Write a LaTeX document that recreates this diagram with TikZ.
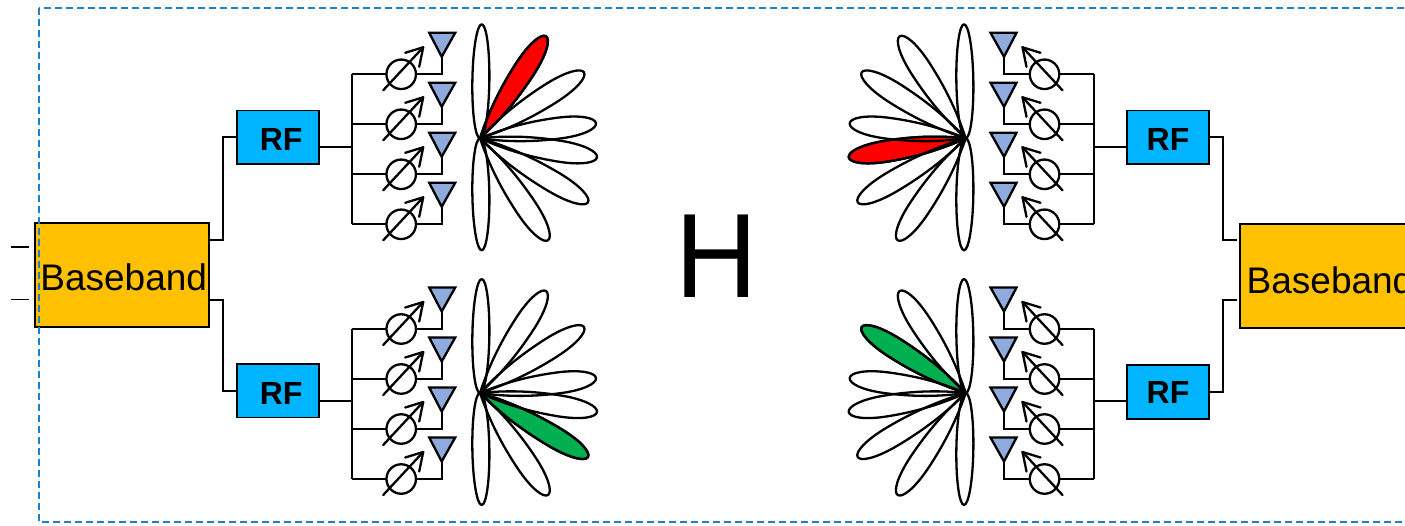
\documentclass[tikz,border=0pt]{standalone}
\usepackage{fontspec}
\setmainfont{Liberation Sans}
\definecolor{rfblue}{HTML}{00B4FF}
\definecolor{bbgold}{HTML}{FFC000}
\definecolor{antblue}{HTML}{8FAADC}
\definecolor{framecol}{HTML}{1F7FC8}
\definecolor{lobegreen}{HTML}{00B050}
\tikzset{
  wire/.style={line width=1.9pt,line join=miter},
  heavy/.style={line width=2.3pt,line join=round},
  rfbox/.style={draw=black,line width=1.7pt,fill=rfblue,minimum width=82pt,minimum height=53.5pt,inner sep=0pt,outer sep=0pt,font=\fontsize{32}{32}\selectfont\bfseries},
  bbbox/.style={draw=black,line width=1.7pt,fill=bbgold,minimum width=174.5pt,minimum height=103.7pt,inner sep=0pt,outer sep=0pt,font=\fontsize{37}{37}\selectfont},
  shifter/.style={circle,draw=black,line width=2.3pt,minimum size=29.5pt,inner sep=0pt,outer sep=0pt},
  antenna/.style={draw=black,line width=2.3pt,fill=antblue,line join=miter},
  lobeline/.style={draw=black,line width=2.3pt,line join=round}
}
% teardrop lobe: #1 tip dx, #2 tip dy (pixels, y down), #3 extra options
\newcommand{\lobeat}[3]{%
  \pgfmathsetmacro{\lobelen}{veclen(#1,#2)}%
  \pgfmathsetmacro{\lobeang}{atan2(-(#2),#1)}%
  \path[lobeline,#3,rotate=\lobeang] (0,0)
    .. controls (0.2*\lobelen,6.5) and (0.42*\lobelen,10.5) .. (0.68*\lobelen,10.5)
    .. controls (0.88*\lobelen,10.5) and (\lobelen,5.5) .. (\lobelen,0)
    .. controls (\lobelen,-5.5) and (0.88*\lobelen,-10.5) .. (0.68*\lobelen,-10.5)
    .. controls (0.42*\lobelen,-10.5) and (0.2*\lobelen,-6.5) .. (0,0) -- cycle;%
}
% upright lobe: plain ellipse from the origin to its tip
\newcommand{\uprightlobe}[2]{%
  \pgfmathsetmacro{\lobelen}{veclen(#1,#2)}%
  \pgfmathsetmacro{\lobeang}{atan2(-(#2),#1)}%
  \path[lobeline,rotate=\lobeang] (\lobelen/2,0) ellipse [x radius=\lobelen/2,y radius=8.5];%
}
% #1 name prefix, #2 fill lobe dx, #3 fill lobe dy, #4 fill colour
\newcommand{\antarray}[4]{%
  \foreach \k in {0,1,2,3}{%
    \begin{scope}[yshift=-\k*50pt]
      \node[shifter] (#1p\k) at (49.5,0) {};
      \coordinate (#1t\k) at (90,-17.5);
      \coordinate (#1b\k) at (0,0);
      \draw[wire] (#1b\k) -- (#1p\k);
      \draw[heavy,line join=miter] (#1p\k) -- (90,0) -- (#1t\k);
      \draw[antenna] (77.5,-41.5) -- (103.5,-41.5) -- (#1t\k) -- cycle;
      \draw[heavy,line cap=round] (31.5,16) -- (71.5,-27);
      \draw[heavy,line cap=round] (53.5,-21.5) -- (71.5,-27) -- (67.5,-7.5);
    \end{scope}
  }
  \draw[wire] (#1b0) -- (#1b3);
  \begin{scope}[shift={(128.3,64)}]
    \lobeat{#2}{#3}{fill=#4}
    \uprightlobe{1.7}{-114}
    \lobeat{66}{-102}{}
    \lobeat{104}{-66}{}
    \lobeat{116}{-15}{}
    \lobeat{117}{19}{}
    \lobeat{108}{64}{}
    \lobeat{68}{102}{}
    \uprightlobe{1.7}{112}
  \end{scope}
}
\begin{document}
\begin{tikzpicture}[x=1pt,y=-1pt]
\useasboundingbox (0,0) rectangle (1405,525);
% left side
\node[bbbox] (bbL) at (122,275) {\raisebox{-15.7pt}[0pt][0pt]{\kern3.4pt Baseband}};
\node[rfbox] (rfLa) at (278.2,137.3) {\raisebox{-13.4pt}[0pt][0pt]{\kern6pt RF}};
\node[rfbox] (rfLb) at (278.2,390.6) {\raisebox{-13.4pt}[0pt][0pt]{\kern6pt RF}};
\begin{scope}[shift={(351.7,74.3)}]\antarray{A}{66}{-102}{red}\end{scope}
\begin{scope}[shift={(351.7,329)}]\antarray{B}{108}{64}{lobegreen}\end{scope}
% right side
\node[bbbox] (bbR) at (1327.5,276) {\raisebox{-17.3pt}[0pt][0pt]{\kern5pt Baseband}};
\node[rfbox] (rfRa) at (1168,137.3) {\raisebox{-13pt}[0pt][0pt]{RF}};
\node[rfbox] (rfRb) at (1168,392) {\raisebox{-11.5pt}[0pt][0pt]{RF}};
\begin{scope}[shift={(1094,74.3)},xscale=-1]\antarray{C}{117}{19}{red}\end{scope}
\begin{scope}[shift={(1094,329)},xscale=-1]\antarray{D}{104}{-66}{lobegreen}\end{scope}
% feeds from RF to bus
\coordinate (fA) at (351.7,146.8);
\coordinate (fB) at (351.7,401);
\coordinate (fC) at (1094,146.8);
\coordinate (fD) at (1094,401);
\draw[wire] (fA) -- (rfLa.east |- fA);
\draw[wire] (fB) -- (rfLb.east |- fB);
\draw[wire] (fC) -- (rfRa.west |- fC);
\draw[wire] (fD) -- (rfRb.west |- fD);
% baseband to RF
\coordinate (bLa) at (209.3,240);
\coordinate (bLb) at (209.3,300);
\coordinate (bRa) at (1237,240);
\coordinate (bRb) at (1237,300);
\draw[wire] (bLa) -- (223,240) |- (rfLa.west);
\draw[wire] (bLb) -- (223,300) |- (rfLb.west);
\draw[wire] (bRa) -- (1223,240) |- (rfRa.east);
\draw[wire] (bRb) -- (1223,300) |- (rfRb.east);
% input stubs
\coordinate (sa) at (11,247);
\coordinate (sb) at (11,299.5);
\draw[wire] (sa) -- (29,247);
\draw[wire] (sb) -- (29,299.5);
% H
\node[anchor=base west,inner sep=0pt,font=\fontsize{120}{120}\selectfont] (chan) at (675.6,297) {\scalebox{0.95}[1]{H}};
% dashed frame
\draw[framecol,line width=1.7pt,dash pattern=on 7pt off 4pt] (39,8) rectangle (1412,522);
\end{tikzpicture}
\end{document}
